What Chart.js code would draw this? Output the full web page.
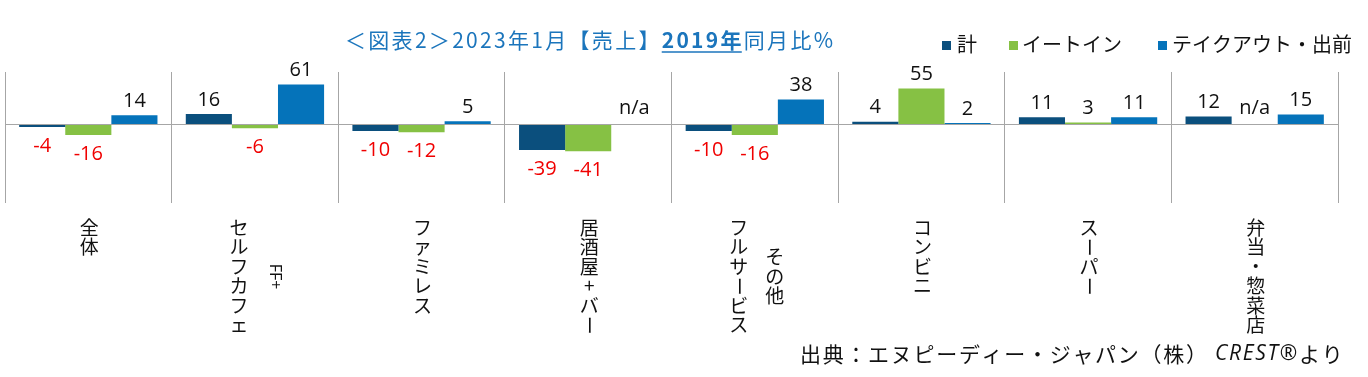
<!DOCTYPE html>
<html>
<head>
<meta charset="utf-8">
<script src="https://cdn.jsdelivr.net/npm/chart.js@4.4.1/dist/chart.umd.min.js"></script>
<style>
  html, body { margin: 0; padding: 0; background: #fff; }
  #wrap { width: 1368px; height: 377px; position: relative; }
</style>
</head>
<body>
<div id="wrap"><canvas id="chart2" width="1368" height="377"></canvas></div>
<script>
// カテゴリ（縦書きラベル: [本列, 副列]）
const categories = [
    ['全体'],
    ['セルフカフェ', 'FF+'],
    ['ファミレス'],
    ['居酒屋+バー'],
    ['フルサービス', 'その他'],
    ['コンビニ'],
    ['スーパー'],
    ['弁当・惣菜店']
];
const seriesNames = ['計', 'イートイン', 'テイクアウト・出前'];
const totalValues = [-4, 16, -10, -39, -10, 4, 11, 12];
const eatInValues = [-16, -6, -12, -41, -16, 55, 3, null];
const takeoutValues = [14, 61, 5, null, 38, 2, 11, 15];
const yMin = -120;
const yMax = 80;

const colors = ['#0B4F7D', '#86C144', '#0573BA'];
const JP = '"Noto Sans CJK JP", "Noto Sans", sans-serif';
const NUM = '"Open Sans", "Noto Sans", sans-serif';

// タイトル・凡例・出典・縦書きラベル・データラベル
const decorations = {
    id: 'decorations',
    afterDraw(chart) {
        const ctx = chart.ctx;
        const xs = chart.scales.x;
        const ys = chart.scales.y;
        ctx.save();

        // タイトル
        const parts = [
            { t: '＜図表2＞2023年1月【売上】', bold: false },
            { t: '2019年', bold: true, under: true },
            { t: '同月比%', bold: false }
        ];
        let tx = 345;
        const ty = 40;
        ctx.textBaseline = 'middle';
        ctx.fillStyle = '#1B75BC';
        ctx.strokeStyle = '#1B75BC';
        ctx.letterSpacing = '2.3px';
        parts.forEach(p => {
            ctx.font = (p.bold ? 'bold ' : '') + '21px ' + JP;
            ctx.textAlign = 'left';
            ctx.fillText(p.t, tx, ty);
            const w = ctx.measureText(p.t).width;
            if (p.under) {
                ctx.lineWidth = 1.5;
                ctx.beginPath();
                ctx.moveTo(tx, ty + 12);
                ctx.lineTo(tx + w - 2, ty + 12);
                ctx.stroke();
            }
            tx += w;
        });
        ctx.letterSpacing = '0px';

        // 凡例
        const legendX = [[942, 957], [1009, 1022], [1158, 1172]];
        ctx.font = '20px ' + JP;
        seriesNames.forEach((name, i) => {
            ctx.fillStyle = colors[i];
            ctx.fillRect(legendX[i][0], 41, 9, 9);
            ctx.fillStyle = '#111';
            ctx.fillText(name, legendX[i][1], 44);
        });

        // 出典
        const src = [
            { t: '出典：エヌピーディー・ジャパン（株） ', it: false },
            { t: 'CREST®', it: true },
            { t: 'より', it: false }
        ];
        let sx = 800;
        ctx.letterSpacing = '1.7px';
        src.forEach(s => {
            ctx.font = (s.it ? 'italic ' : '') + '21px ' + (s.it ? NUM : JP);
            ctx.fillStyle = '#111';
            ctx.fillText(s.t, sx, 354);
            sx += ctx.measureText(s.t).width;
        });
        ctx.letterSpacing = '0px';

        // 縦書きカテゴリラベル
        const fs = 19, adv = 19.5, top = 218;
        const drawColumn = (text, cx, y0) => {
            let y = y0;
            for (const ch of text) {
                ctx.save();
                ctx.translate(cx, y + adv / 2);
                if ('ー'.includes(ch)) ctx.rotate(Math.PI / 2);
                ctx.textAlign = 'center';
                ctx.textBaseline = 'middle';
                ctx.fillText(ch, 0, 0);
                ctx.restore();
                y += adv;
            }
        };
        ctx.fillStyle = '#111';
        ctx.font = fs + 'px ' + JP;
        categories.forEach((lab, i) => {
            const cx = xs.getPixelForValue(i);
            const main = lab[0];
            const mainLen = [...main].length * adv;
            if (lab.length === 1) {
                drawColumn(main, cx + 1, top);
                return;
            }
            drawColumn(main, cx - 16, top);
            const sub = lab[1];
            const mid = top + mainLen / 2;
            if (/^[A-Za-z+]+$/.test(sub)) {
                ctx.save();
                ctx.font = '16px ' + NUM;
                ctx.translate(cx + 20, mid);
                ctx.rotate(Math.PI / 2);
                ctx.textAlign = 'center';
                ctx.textBaseline = 'middle';
                ctx.fillText(sub, 0, 0);
                ctx.restore();
            } else {
                drawColumn(sub, cx + 20, mid - [...sub].length * adv / 2);
            }
        });

        // データラベル
        ctx.font = '20px ' + NUM;
        ctx.textAlign = 'center';
        ctx.textBaseline = 'middle';
        chart.data.datasets.forEach((ds, di) => {
            const meta = chart.getDatasetMeta(di);
            meta.data.forEach((el, i) => {
                const v = ds.data[i];
                const x = el.x;
                if (v === null) {
                    ctx.fillStyle = '#111';
                    ctx.fillText('n/a', x, ys.getPixelForValue(0) - 16);
                } else if (v >= 0) {
                    ctx.fillStyle = '#111';
                    ctx.fillText(String(v), x, el.y - 14);
                } else {
                    ctx.fillStyle = '#F00000';
                    ctx.fillText(String(v), x, el.y + 19);
                }
            });
        });
        ctx.restore();
    }
};

const ctx = document.getElementById('chart2').getContext('2d');
const myChart = new Chart(ctx, {
    type: 'bar',
    data: {
        labels: categories.map(c => c.join(' ')),
        datasets: [
            { label: seriesNames[0], data: totalValues, backgroundColor: colors[0] },
            { label: seriesNames[1], data: eatInValues, backgroundColor: colors[1] },
            { label: seriesNames[2], data: takeoutValues, backgroundColor: colors[2] }
        ]
    },
    options: {
        responsive: false,
        animation: false,
        devicePixelRatio: 1,
        categoryPercentage: 0.83,
        barPercentage: 1,
        layout: { padding: { left: 5, right: 30, top: 72, bottom: 174 } },
        plugins: {
            legend: { display: false },
            title: { display: false },
            tooltip: { enabled: false }
        },
        scales: {
            x: {
                ticks: { display: false },
                border: { display: false },
                grid: { color: '#A6A6A6', lineWidth: 1, drawTicks: false, offset: true }
            },
            y: {
                min: yMin,
                max: yMax,
                ticks: { display: false, stepSize: 20 },
                border: { display: false },
                grid: {
                    drawTicks: false,
                    color: c => (c.tick && c.tick.value === 0 ? '#A6A6A6' : 'rgba(0,0,0,0)')
                }
            }
        }
    },
    plugins: [decorations]
});
</script>
</body>
</html>
